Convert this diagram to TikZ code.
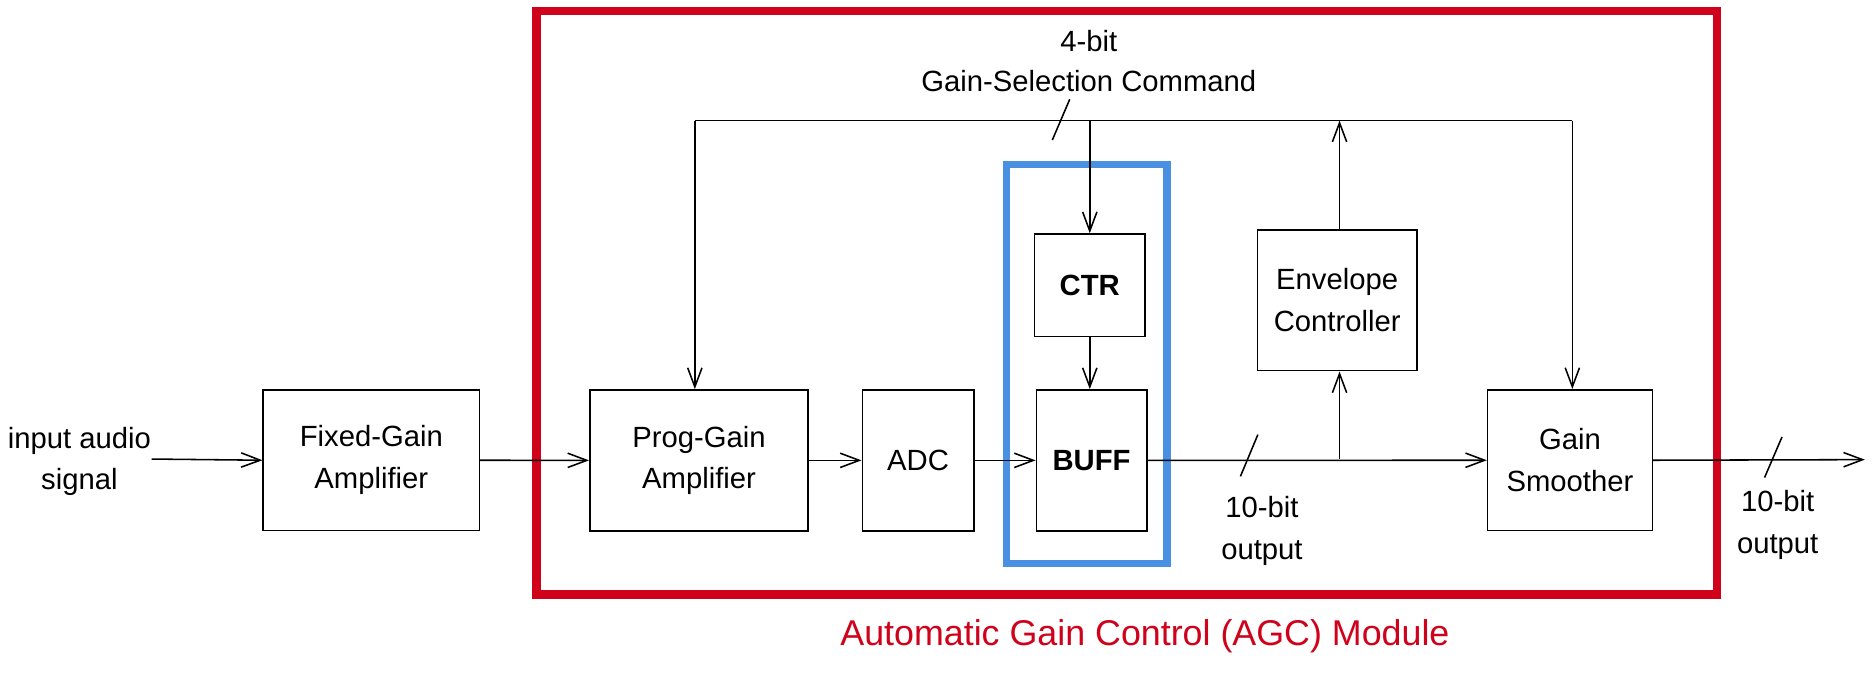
\documentclass[tikz,border=0pt]{standalone}
\usepackage{fontspec}
\setmainfont{Liberation Sans}
\usetikzlibrary{arrows.meta}
\definecolor{agcred}{HTML}{D0021B}
\definecolor{bufblue}{HTML}{4A90E2}
\begin{document}
\begin{tikzpicture}[x=1pt,y=-1pt,
  blk/.style={draw, line width=1.3pt, inner sep=0pt, align=center, font=\fontsize{24.5}{35}\selectfont},
  lbl/.style={inner sep=0pt, align=center, font=\fontsize{24.5}{35}\selectfont},
  conn/.style={line width=1.3pt, -{Straight Barb[length=16pt,width=12pt]}},
  wire/.style={line width=1.3pt},
  frame/.style={draw, inner sep=0pt, fill=none}
]
\useasboundingbox (0,0) rectangle (1568,564);

% frames
\node[frame, draw=agcred, line width=7pt, minimum width=988.5pt, minimum height=488.7pt] (agc) at (943.75,253.65) {};
\node[frame, draw=bufblue, line width=6.5pt, minimum width=134.5pt, minimum height=334.2pt] (grp) at (910.25,304.9) {};

% blocks
\node[blk, minimum width=181pt, minimum height=118pt] (fixed) at (311,385.5) {Fixed-Gain\\Amplifier};
\node[blk, minimum width=183pt, minimum height=118pt] (prog) at (585.5,385.6) {Prog-Gain\\Amplifier};
\node[blk, minimum width=93.5pt, minimum height=118pt] (adc) at (769,385.6) {ADC};
\node[blk, minimum width=92.5pt, minimum height=118pt, font=\fontsize{24.5}{35}\selectfont\bfseries] (buff) at (914.3,385.6) {BUFF};
\node[blk, minimum width=92.5pt, minimum height=86pt, font=\fontsize{24.5}{35}\selectfont\bfseries] (ctr) at (912.8,239) {CTR};
\node[blk, minimum width=133.6pt, minimum height=118pt] (env) at (1120,251.5) {Envelope\\Controller};
\node[blk, minimum width=138pt, minimum height=118pt] (gs) at (1315,385.5) {Gain\\Smoother};

% labels
\node[lbl] (inlbl) at (66.5,386.5) {input audio\\signal};
\node[lbl, font=\fontsize{24.5}{33.5}\selectfont] (cmdlbl) at (912,51.5) {4-bit\\Gain-Selection Command};
\node[lbl] (midlbl) at (1057,444.5) {10-bit\\output};
\node[lbl] (outlbl) at (1489,440) {10-bit\\output};
\node[inner sep=0pt, text=agcred, font=\fontsize{30}{36}\selectfont] (title) at (959,533) {Automatic Gain Control (AGC) Module};

% coordinates
\coordinate (inS) at (127,384.5);
\coordinate (outE) at (1562,385);
\coordinate (tl) at (582,101);
\coordinate (tr) at (1317,101);
\coordinate (br) at (1122,384.5);

% main path
\draw[conn] (inS) -- (fixed.west);
\draw[conn] (fixed.east) -- (prog.west);
\draw[conn] (prog.east) -- (adc.west);
\draw[conn] (adc.east) -- (buff.west);
\draw[conn] (buff.east) -- (gs.west);
\draw[conn] (gs.east) -- (outE);
\draw[conn] (ctr.south) -- (ctr.south |- buff.north);

% envelope
\draw[conn] (br) -- (br |- env.south);
\draw[conn] (br |- env.north) -- (br |- tl);

% feedback bus
\draw[wire] (tl) -- (tr);
\draw[conn] (tl) -- (tl |- prog.north);
\draw[conn] (tr) -- (tr |- gs.north);
\draw[conn] (ctr.north |- tl) -- (ctr.north);

% bus width slashes
\draw[wire] (881.4,117.3) -- (896,83.2);
\draw[wire] (1039,399) -- (1053.6,364);
\draw[wire] (1478,400) -- (1492.6,366);
\end{tikzpicture}
\end{document}
